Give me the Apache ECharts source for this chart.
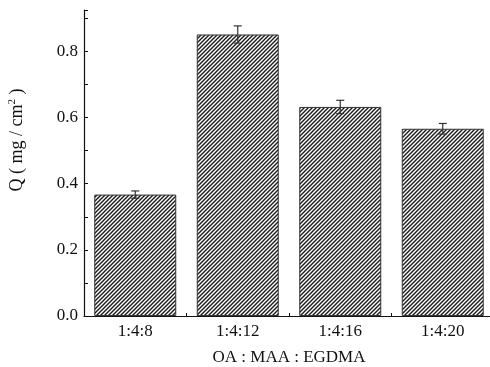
<!DOCTYPE html>
<html><head><meta charset="utf-8">
<script src="https://cdn.jsdelivr.net/npm/echarts@6/dist/echarts.min.js"></script>
<style>html,body{margin:0;padding:0;background:#fff}#c{width:490px;height:367px}</style>
</head><body><div id="c"></div>
<script>
var categories = ['1:4:8', '1:4:12', '1:4:16', '1:4:20'];
var values = [0.367, 0.851, 0.632, 0.566];
var errors = [0.011, 0.026, 0.020, 0.016];
var yTickLabels = ['0.0', '0.2', '0.4', '0.6', '0.8'];

function makePattern() {
  var c = document.createElement('canvas');
  c.width = 4; c.height = 4;
  var ctx = c.getContext('2d');
  ctx.fillStyle = '#fff';
  ctx.fillRect(0, 0, 4, 4);
  ctx.strokeStyle = '#1a1a1a';
  ctx.lineWidth = 1.4;
  ctx.beginPath();
  ctx.moveTo(-1, 5); ctx.lineTo(5, -1);
  ctx.moveTo(-3, 3); ctx.lineTo(3, -3);
  ctx.moveTo(1, 7); ctx.lineTo(7, 1);
  ctx.stroke();
  return c;
}

var font = 'Liberation Serif';
var chart = echarts.init(document.getElementById('c'));
chart.setOption({
  animation: false,
  backgroundColor: '#fff',
  grid: { left: 84, top: 10, width: 410, height: 306, outerBoundsMode: 'none', containLabel: false },
  xAxis: {
    type: 'category',
    data: categories,
    name: 'OA : MAA : EGDMA',
    nameLocation: 'middle',
    nameGap: 33,
    nameTextStyle: { fontFamily: font, fontSize: 17, color: '#111' },
    axisLine: { lineStyle: { color: '#111', width: 1.2 } },
    axisTick: { show: true, inside: true, length: 3, lineStyle: { color: '#111' } },
    axisLabel: { fontFamily: font, fontSize: 17, color: '#111', margin: 7 }
  },
  yAxis: {
    type: 'value',
    min: 0, max: 0.925, interval: 0.1,
    axisLine: { show: true, lineStyle: { color: '#111', width: 1.2 } },
    axisTick: { show: true, inside: true, length: 4, lineStyle: { color: '#111' } },
    splitLine: { show: false },
    axisLabel: {
      fontFamily: font, fontSize: 17, color: '#111', margin: 6,
      formatter: function (v) {
        var s = v.toFixed(1);
        return yTickLabels.indexOf(s) >= 0 ? s : '';
      }
    }
  },
  graphic: [{
    type: 'text',
    x: 17, y: 140,
    rotation: Math.PI / 2,
    style: {
      text: 'Q ( mg / cm{s|2} )',
      rich: { s: { fontSize: 11, verticalAlign: 'top', padding: [0, 0, 9, 0], fontFamily: font, fill: '#111' } },
      fontFamily: font,
      fontSize: 18,
      fill: '#111',
      align: 'center',
      verticalAlign: 'middle'
    }
  }],
  series: [{
    type: 'bar',
    data: values,
    barWidth: '80%',
    itemStyle: { color: { image: makePattern(), repeat: 'repeat' }, borderColor: '#333', borderWidth: 1 }
  }, {
    type: 'custom',
    data: values.map(function (v, i) { return [i, v - errors[i], v + errors[i]]; }),
    renderItem: function (params, api) {
      var lo = api.coord([api.value(0), api.value(1)]);
      var hi = api.coord([api.value(0), api.value(2)]);
      var x = lo[0], hw = 4;
      var st = { stroke: '#333', lineWidth: 1.2 };
      return { type: 'group', children: [
        { type: 'line', shape: { x1: x, y1: lo[1], x2: x, y2: hi[1] }, style: st },
        { type: 'line', shape: { x1: x - hw, y1: lo[1], x2: x + hw, y2: lo[1] }, style: st },
        { type: 'line', shape: { x1: x - hw, y1: hi[1], x2: x + hw, y2: hi[1] }, style: st }
      ]};
    },
    z: 10
  }]
});
</script></body></html>
